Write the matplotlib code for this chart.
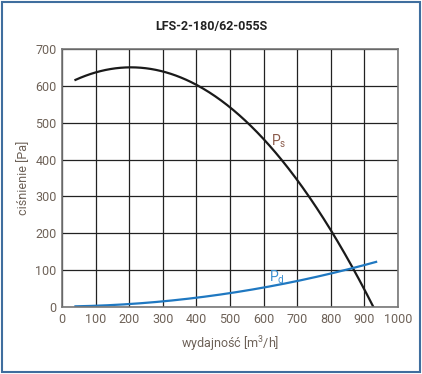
import matplotlib
matplotlib.use("Agg")
import matplotlib.pyplot as plt
import numpy as np
from matplotlib.patches import Rectangle

# data
ps_x = [40, 100, 200, 300, 400, 500, 600, 663, 729, 798, 863, 934]
ps_y = [617, 638, 648, 635, 600, 545, 465, 400, 300, 200, 100, 0]
pd_x = [40, 100, 200, 300, 400, 500, 600, 700, 800, 900, 935]
pd_y = [2, 4, 8, 15, 25, 37, 53, 72, 92, 112, 123]

x_ticks = [0, 100, 200, 300, 400, 500, 600, 700, 800, 900, 1000]
y_ticks = [0, 100, 200, 300, 400, 500, 600, 700]

title = "LFS-2-180/62-055S"
tick_col = "#6e6258"

plt.rcParams['font.family'] = ['Roboto', 'DejaVu Sans']

fig = plt.figure(figsize=(4.22, 3.74), dpi=100)
ax = fig.add_axes([0.147, 0.179, 0.796, 0.690])

# smooth curves through the hand-read points
xs = np.linspace(ps_x[0], ps_x[-1], 300)
ax.plot(xs, np.polyval(np.polyfit(ps_x, ps_y, 2), xs), color="#1a1a1a", lw=1.6)
xs2 = np.linspace(pd_x[0], pd_x[-1], 300)
ax.plot(xs2, np.polyval(np.polyfit(pd_x, pd_y, 2), xs2), color="#1f78c1", lw=1.6)

ax.text(622, 438, "P$_\\mathregular{s}$", color="#8a5a4a", fontsize=10)
ax.text(615, 68, "P$_\\mathregular{d}$", color="#3a8fd0", fontsize=10)

ax.set_xlim(0, 1000)
ax.set_ylim(0, 700)
ax.set_xticks(x_ticks)
ax.set_yticks(y_ticks)
ax.grid(True, color="#222222", lw=0.9)
ax.tick_params(colors="#888888", labelcolor=tick_col, labelsize=9, length=0, pad=4)
for s in ax.spines.values():
    s.set_color("#777777")
    s.set_linewidth(1.2)

ax.set_xlabel("wydajność [m$^\\mathregular{3}$/h]", color=tick_col, fontsize=9, labelpad=6)
ax.set_ylabel("ciśnienie [Pa]", color=tick_col, fontsize=9, labelpad=4)
fig.text(0.5, 0.928, title, ha="center", va="center", fontsize=9,
         fontweight="bold", color="#222222")

fig.patches.append(Rectangle((0.004, 0.006), 0.992, 0.988, transform=fig.transFigure,
                             fill=False, edgecolor="#3f6e9e", lw=1.5))

fig.savefig("out.png", dpi=100)
